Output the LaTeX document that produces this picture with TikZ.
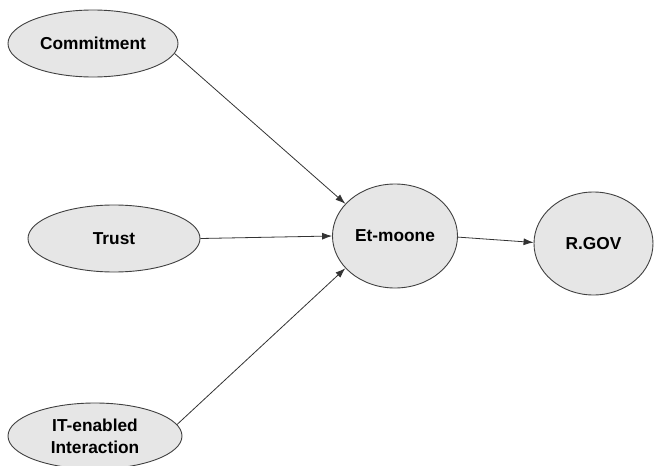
\documentclass[tikz,border=0pt]{standalone}
\usepackage{fontspec}
\setmainfont{Liberation Sans}
\usetikzlibrary{shapes.geometric,arrows.meta}
\definecolor{ellfill}{HTML}{E6E6E6}
\definecolor{ellline}{HTML}{404040}
\begin{document}
\begin{tikzpicture}[x=1pt,y=-1pt,
  construct/.style={ellipse, draw=ellline, fill=ellfill, line width=0.9pt, inner sep=0pt,
    font=\fontsize{17.3}{22}\selectfont\bfseries, align=center},
  link/.style={draw=black!80, line width=0.8pt, -{Latex[length=10pt,width=7pt]}}]
\useasboundingbox (0,0) rectangle (654,466);
\node[construct, minimum width=170pt, minimum height=67pt] (com) at (93,43.5) {Commitment};
\node[construct, minimum width=172pt, minimum height=67pt] (tru) at (114,238.5) {Trust};
\node[construct, minimum width=174pt, minimum height=66pt] (iti) at (95,436) {IT-enabled\\Interaction};
\node[construct, minimum width=125pt, minimum height=104pt] (etm) at (395,236) {Et-moone};
\node[construct, minimum width=119pt, minimum height=103pt] (gov) at (593.5,243.5) {R.GOV};
\draw[link] (com.-7.5) -- (etm.147);
\draw[link] (tru.0.5) -- (etm.180);
\draw[link] (iti.8.3) -- (etm.213.7);
\draw[link] (etm.-1.8) -- (gov.179);
\end{tikzpicture}
\end{document}
